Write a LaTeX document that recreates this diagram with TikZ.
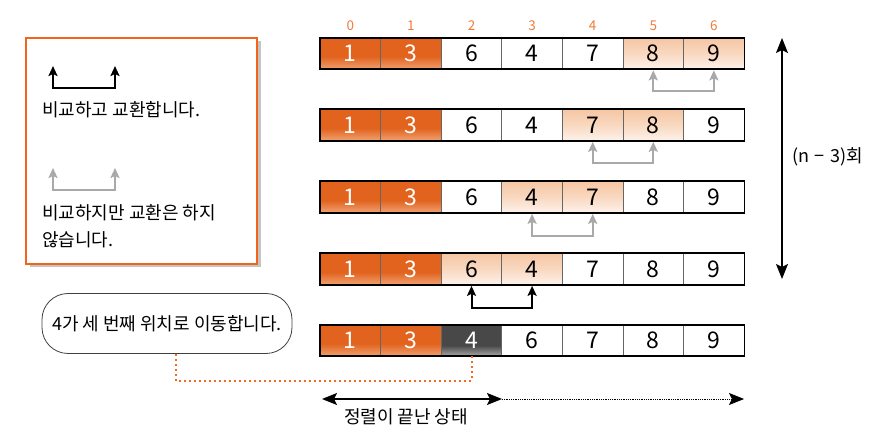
\documentclass[tikz,border=0pt]{standalone}
\usepackage{fontspec}
\setmainfont{Noto Sans CJK KR}
\usetikzlibrary{arrows.meta}
\definecolor{otop}{HTML}{E1631E}
\definecolor{obot}{HTML}{F0A070}
\definecolor{ptop}{HTML}{F5C6A4}
\definecolor{pmid}{HTML}{F9D8C0}
\definecolor{pbot}{HTML}{FDF2EA}
\definecolor{gtop}{HTML}{484848}
\definecolor{gbot}{HTML}{A6A6A6}
\definecolor{idxcol}{HTML}{F07A38}
\definecolor{lborder}{HTML}{F0641C}
\definecolor{arrgray}{HTML}{A9A9A9}
\definecolor{dotor}{HTML}{F06A28}
\definecolor{shadowgray}{HTML}{C4C4C4}
\pgfdeclareverticalshading{orangecell}{100bp}{color(0bp)=(obot); color(25bp)=(obot); color(45bp)=(otop); color(100bp)=(otop)}
\pgfdeclareverticalshading{peachcell}{100bp}{color(0bp)=(pbot); color(25bp)=(pbot); color(50bp)=(pmid); color(75bp)=(ptop); color(100bp)=(ptop)}
\pgfdeclareverticalshading{graycell}{100bp}{color(0bp)=(gbot); color(25bp)=(gbot); color(42bp)=(gtop); color(100bp)=(gtop)}
\tikzset{
  cell/.style={minimum width=60.6pt, minimum height=31pt, inner sep=0pt, draw=black!60, line width=0.7pt, font=\fontsize{23}{23}\selectfont},
  oc/.style={shade, shading=orangecell, text=white},
  pc/.style={shade, shading=peachcell},
  gc/.style={shade, shading=graycell, text=white},
  wc/.style={fill=white},
  rowframe/.style={draw=black, line width=1.8pt},
  idxlabel/.style={text=idxcol, font=\fontsize{13.5}{13.5}\selectfont, inner sep=0pt},
  swaparr/.style={line width=2pt, arrows={Stealth[length=10pt,width=9pt,inset=2pt]-Stealth[length=10pt,width=9pt,inset=2pt]}},
  bigarr/.style={line width=1.4pt, arrows={Stealth[length=15pt,width=12pt,inset=3pt]-Stealth[length=15pt,width=12pt,inset=3pt]}},
  txt/.style={font=\fontsize{18}{18}\selectfont, inner sep=0pt},
}
\begin{document}
\begin{tikzpicture}[x=1pt,y=-1pt]
\useasboundingbox (0,0) rectangle (887,438);

% legend box
\fill[shadowgray] (29.5,41.5) rectangle (260.5,267.5);
\draw[lborder, fill=white, line width=1.3pt] (26,38) rectangle (257,264);
\coordinate (la1) at (53,66);
\coordinate (la2) at (115,66);
\draw[swaparr, black] (la1) -- ++(0,22) -| (la2);
\node[txt, anchor=west] (lt1) at (42,110) {비교하고 교환합니다.};
\coordinate (lg1) at (53,168);
\coordinate (lg2) at (115,168);
\draw[swaparr, arrgray] (lg1) -- ++(0,22) -| (lg2);
\node[txt, anchor=west] (lt2) at (42,213) {비교하지만 교환은 하지};
\node[txt, anchor=west] (lt3) at (42,240) {않습니다.};

% index labels
\foreach \i in {0,...,6} {
  \node[idxlabel] (idx\i) at ({350.3+60.6*\i},26) {\i};
}

% rows
\foreach \v/\s [count=\i from 0] in {1/oc,3/oc,6/wc,4/wc,7/wc,8/pc,9/pc} {
  \node[cell,\s] (r1c\i) at ({350.3+60.6*\i},53.5) {\v};
}
\draw[rowframe] (r1c0.north west) rectangle (r1c6.south east);
\foreach \v/\s [count=\i from 0] in {1/oc,3/oc,6/wc,4/wc,7/pc,8/pc,9/wc} {
  \node[cell,\s] (r2c\i) at ({350.3+60.6*\i},125) {\v};
}
\draw[rowframe] (r2c0.north west) rectangle (r2c6.south east);
\foreach \v/\s [count=\i from 0] in {1/oc,3/oc,6/wc,4/pc,7/pc,8/wc,9/wc} {
  \node[cell,\s] (r3c\i) at ({350.3+60.6*\i},197) {\v};
}
\draw[rowframe] (r3c0.north west) rectangle (r3c6.south east);
\foreach \v/\s [count=\i from 0] in {1/oc,3/oc,6/pc,4/pc,7/wc,8/wc,9/wc} {
  \node[cell,\s] (r4c\i) at ({350.3+60.6*\i},269) {\v};
}
\draw[rowframe] (r4c0.north west) rectangle (r4c6.south east);
\foreach \v/\s [count=\i from 0] in {1/oc,3/oc,4/gc,6/wc,7/wc,8/wc,9/wc} {
  \node[cell,\s] (r5c\i) at ({350.3+60.6*\i},340.5) {\v};
}
\draw[rowframe] (r5c0.north west) rectangle (r5c6.south east);

% compare arrows
\draw[swaparr, arrgray, shorten <=1pt, shorten >=1pt] (r1c5.south) -- ++(0,22) -| (r1c6.south);
\draw[swaparr, arrgray, shorten <=1pt, shorten >=1pt] (r2c4.south) -- ++(0,22) -| (r2c5.south);
\draw[swaparr, arrgray, shorten <=1pt, shorten >=1pt] (r3c3.south) -- ++(0,23) -| (r3c4.south);
\draw[swaparr, black, shorten <=1pt, shorten >=1pt] (r4c2.south) -- ++(0,23) -| (r4c3.south);

% vertical arrow
\coordinate (vt) at (782,38);
\coordinate (vb) at (782,279);
\draw[bigarr, line width=1.2pt] (vt) -- (vb);
\node[txt, anchor=west] (cnt) at (792,157) {(n\hspace{0.3em}−\hspace{0.3em}3)회};

% message
\node[draw=black!75, line width=0.8pt, rounded corners=26pt, minimum width=250pt, minimum height=60pt, txt] (msg) at (167,323.5) {4가 세 번째 위치로 이동합니다.};
\draw[dotor, line width=2pt, dash pattern=on 2pt off 3pt] ([xshift=9pt]msg.south) -- ++(0,27) -| (r5c2.south);

% bottom arrow
\coordinate (b0) at (322,399);
\coordinate (b1) at (502,399);
\coordinate (b2) at (744,399);
\draw[bigarr] (b0) -- (b1);
\draw[line width=0.8pt, densely dotted, arrows={-Stealth[length=15pt,width=12pt,inset=3pt]}] (b1) -- (b2);
\node[txt] (done) at (406,417) {정렬이 끝난 상태};
\end{tikzpicture}
\end{document}
